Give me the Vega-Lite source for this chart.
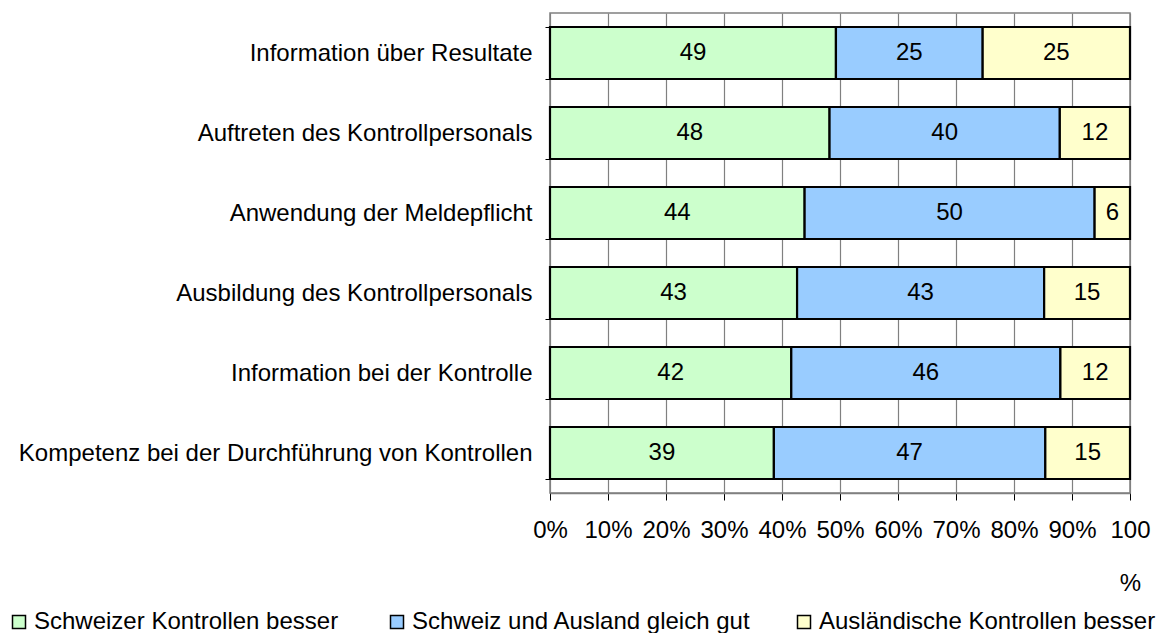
{
  "$schema": "https://vega.github.io/schema/vega-lite/v6.json",
  "width": 580,
  "height": 480,
  "autosize": {"type": "none"},
  "padding": {"left": 550, "top": 13, "right": 27, "bottom": 140},
  "background": "white",
  "data": {
    "values": [
      {"cat": "Information über Resultate", "series": "Schweizer Kontrollen besser", "order": 1, "value": 49.3},
      {"cat": "Information über Resultate", "series": "Schweiz und Ausland gleich gut", "order": 2, "value": 25.3},
      {"cat": "Information über Resultate", "series": "Ausländische Kontrollen besser", "order": 3, "value": 25.4},
      {"cat": "Auftreten des Kontrollpersonals", "series": "Schweizer Kontrollen besser", "order": 1, "value": 48.2},
      {"cat": "Auftreten des Kontrollpersonals", "series": "Schweiz und Ausland gleich gut", "order": 2, "value": 39.7},
      {"cat": "Auftreten des Kontrollpersonals", "series": "Ausländische Kontrollen besser", "order": 3, "value": 12.1},
      {"cat": "Anwendung der Meldepflicht", "series": "Schweizer Kontrollen besser", "order": 1, "value": 43.9},
      {"cat": "Anwendung der Meldepflicht", "series": "Schweiz und Ausland gleich gut", "order": 2, "value": 50.0},
      {"cat": "Anwendung der Meldepflicht", "series": "Ausländische Kontrollen besser", "order": 3, "value": 6.1},
      {"cat": "Ausbildung des Kontrollpersonals", "series": "Schweizer Kontrollen besser", "order": 1, "value": 42.6},
      {"cat": "Ausbildung des Kontrollpersonals", "series": "Schweiz und Ausland gleich gut", "order": 2, "value": 42.6},
      {"cat": "Ausbildung des Kontrollpersonals", "series": "Ausländische Kontrollen besser", "order": 3, "value": 14.8},
      {"cat": "Information bei der Kontrolle", "series": "Schweizer Kontrollen besser", "order": 1, "value": 41.6},
      {"cat": "Information bei der Kontrolle", "series": "Schweiz und Ausland gleich gut", "order": 2, "value": 46.4},
      {"cat": "Information bei der Kontrolle", "series": "Ausländische Kontrollen besser", "order": 3, "value": 12.0},
      {"cat": "Kompetenz bei der Durchführung von Kontrollen", "series": "Schweizer Kontrollen besser", "order": 1, "value": 38.6},
      {"cat": "Kompetenz bei der Durchführung von Kontrollen", "series": "Schweiz und Ausland gleich gut", "order": 2, "value": 46.8},
      {"cat": "Kompetenz bei der Durchführung von Kontrollen", "series": "Ausländische Kontrollen besser", "order": 3, "value": 14.6}
    ]
  },
  "transform": [
    {"stack": "value", "groupby": ["cat"], "sort": [{"field": "order", "order": "ascending"}], "offset": "normalize", "as": ["x0", "x1"]},
    {"calculate": "(datum.x0 + datum.x1) / 2", "as": "mid"}
  ],
  "encoding": {
    "y": {
      "field": "cat",
      "type": "nominal",
      "sort": ["Information über Resultate", "Auftreten des Kontrollpersonals", "Anwendung der Meldepflicht", "Ausbildung des Kontrollpersonals", "Information bei der Kontrolle", "Kompetenz bei der Durchführung von Kontrollen"],
      "scale": {"paddingInner": 0.35, "paddingOuter": 0.175},
      "axis": {"title": null}
    }
  },
  "layer": [
    {
      "transform": [{"filter": "datum.series == 'Schweizer Kontrollen besser'"}],
      "mark": {"type": "bar", "stroke": "black", "strokeWidth": 2.2},
      "encoding": {
        "x": {"field": "x0", "type": "quantitative", "scale": {"domain": [0, 1]}, "axis": {"title": null, "values": [0, 0.1, 0.2, 0.3, 0.4, 0.5, 0.6, 0.7, 0.8, 0.9, 1], "format": ".0%", "labelExpr": "datum.value == 1 ? ['100', '%'] : datum.label"}},
        "x2": {"field": "x1"},
        "color": {"field": "series", "type": "nominal", "scale": {"domain": ["Schweizer Kontrollen besser"], "range": ["#CCFFCC"]}, "legend": {"orient": "none", "legendX": -543, "legendY": 597, "title": null}}
      }
    },
    {
      "transform": [{"filter": "datum.series == 'Schweiz und Ausland gleich gut'"}],
      "mark": {"type": "bar", "stroke": "black", "strokeWidth": 2.2},
      "encoding": {
        "x": {"field": "x0", "type": "quantitative", "scale": {"domain": [0, 1]}, "axis": {"title": null, "values": [0, 0.1, 0.2, 0.3, 0.4, 0.5, 0.6, 0.7, 0.8, 0.9, 1], "format": ".0%", "labelExpr": "datum.value == 1 ? ['100', '%'] : datum.label"}},
        "x2": {"field": "x1"},
        "color": {"field": "series", "type": "nominal", "scale": {"domain": ["Schweiz und Ausland gleich gut"], "range": ["#99CCFF"]}, "legend": {"orient": "none", "legendX": -165, "legendY": 597, "title": null}}
      }
    },
    {
      "transform": [{"filter": "datum.series == 'Ausländische Kontrollen besser'"}],
      "mark": {"type": "bar", "stroke": "black", "strokeWidth": 2.2},
      "encoding": {
        "x": {"field": "x0", "type": "quantitative", "scale": {"domain": [0, 1]}, "axis": {"title": null, "values": [0, 0.1, 0.2, 0.3, 0.4, 0.5, 0.6, 0.7, 0.8, 0.9, 1], "format": ".0%", "labelExpr": "datum.value == 1 ? ['100', '%'] : datum.label"}},
        "x2": {"field": "x1"},
        "color": {"field": "series", "type": "nominal", "scale": {"domain": ["Ausländische Kontrollen besser"], "range": ["#FFFFCC"]}, "legend": {"orient": "none", "legendX": 242, "legendY": 597, "title": null}}
      }
    },
    {
      "mark": {"type": "text", "font": "Liberation Sans", "fontSize": 24, "color": "black", "align": "center", "baseline": "middle"},
      "encoding": {
        "x": {"field": "mid", "type": "quantitative", "scale": {"domain": [0, 1]}, "axis": {"title": null, "values": [0, 0.1, 0.2, 0.3, 0.4, 0.5, 0.6, 0.7, 0.8, 0.9, 1], "format": ".0%", "labelExpr": "datum.value == 1 ? ['100', '%'] : datum.label"}},
        "text": {"field": "value", "type": "quantitative", "format": ".0f"}
      }
    }
  ],
  "resolve": {"scale": {"color": "independent"}, "legend": {"color": "independent"}},
  "config": {
    "view": {"stroke": "#808080", "strokeWidth": 1.5},
    "font": "Liberation Sans",
    "axisX": {
      "grid": true,
      "gridColor": "#808080",
      "gridOpacity": 1,
      "gridWidth": 1.2,
      "domain": true,
      "domainColor": "#808080",
      "domainWidth": 1.5,
      "ticks": true,
      "tickColor": "black",
      "tickSize": 7,
      "labelFont": "Liberation Sans",
      "labelFontSize": 24,
      "labelColor": "black",
      "labelPadding": 18,
      "labelFlush": false,
      "labelOverlap": false,
      "labelLineHeight": 53
    },
    "axisY": {
      "grid": false,
      "domain": false,
      "ticks": true,
      "tickColor": "black",
      "tickSize": 5,
      "tickBand": "extent",
      "labelFont": "Liberation Sans",
      "labelFontSize": 24,
      "labelColor": "black",
      "labelPadding": 13,
      "labelLimit": 700
    },
    "legend": {
      "direction": "horizontal",
      "symbolType": "square",
      "symbolSize": 169,
      "symbolStrokeColor": "black",
      "symbolStrokeWidth": 1.5,
      "symbolOpacity": 1,
      "labelFont": "Liberation Sans",
      "labelFontSize": 24,
      "labelColor": "black",
      "labelOffset": 3,
      "labelLimit": 600
    }
  }
}
